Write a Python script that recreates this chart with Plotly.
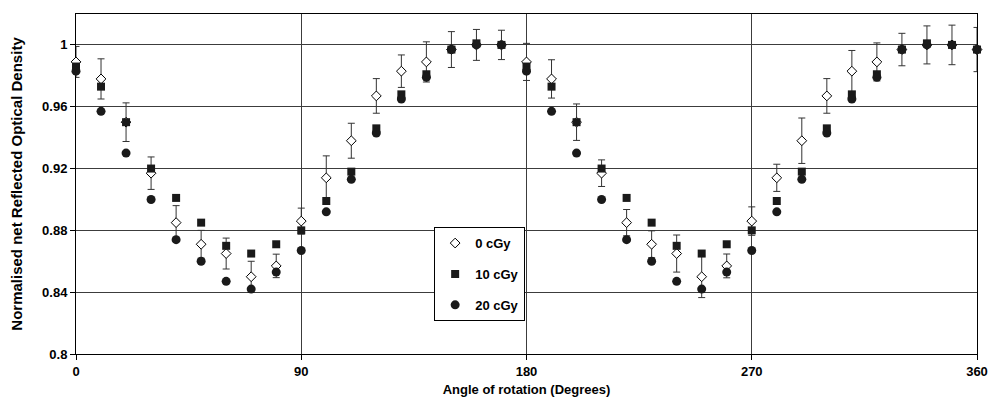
import plotly.graph_objects as go

angles = [0, 10, 20, 30, 40, 50, 60, 70, 80, 90, 100, 110, 120, 130, 140, 150, 160, 170, 180,
          190, 200, 210, 220, 230, 240, 250, 260, 270, 280, 290, 300, 310, 320, 330, 340, 350, 360]

od_0cGy = [0.989, 0.978, 0.950, 0.917, 0.885, 0.871, 0.865, 0.850, 0.857, 0.886,
           0.914, 0.938, 0.967, 0.983, 0.989, 0.997, 1.000, 1.000, 0.989,
           0.978, 0.950, 0.917, 0.885, 0.871, 0.865, 0.850, 0.857, 0.886,
           0.914, 0.938, 0.967, 0.983, 0.989, 0.997, 1.000, 1.000, 0.997]

err_0cGy = [0.010, 0.013, 0.0125, 0.0105, 0.011, 0.009, 0.010, 0.010, 0.0076, 0.0084,
            0.0142, 0.0113, 0.0112, 0.0105, 0.013, 0.0116, 0.010, 0.0095, 0.012,
            0.0124, 0.0118, 0.0086, 0.0085, 0.0087, 0.012, 0.0135, 0.0077, 0.0092,
            0.0088, 0.0147, 0.0112, 0.0134, 0.0123, 0.0105, 0.0123, 0.0128, 0.0143]

od_10cGy = [0.986, 0.973, 0.950, 0.920, 0.901, 0.885, 0.870, 0.865, 0.871, 0.880,
            0.899, 0.918, 0.946, 0.968, 0.981, 0.997, 1.001, 1.000, 0.986,
            0.973, 0.950, 0.920, 0.901, 0.885, 0.870, 0.865, 0.871, 0.880,
            0.899, 0.918, 0.946, 0.968, 0.981, 0.997, 1.001, 1.000, 0.997]

od_20cGy = [0.983, 0.957, 0.930, 0.900, 0.874, 0.860, 0.847, 0.842, 0.853, 0.867,
            0.892, 0.913, 0.943, 0.965, 0.979, 0.997, 1.000, 1.000, 0.983,
            0.957, 0.930, 0.900, 0.874, 0.860, 0.847, 0.842, 0.853, 0.867,
            0.892, 0.913, 0.943, 0.965, 0.979, 0.997, 1.000, 1.000, 0.997]

y_tickvals = [0.8, 0.84, 0.88, 0.92, 0.96, 1.0]
y_ticktext = ["0.8", "0.84", "0.88", "0.92", "0.96", "1"]
x_tickvals = [0, 90, 180, 270, 360]
x_ticktext = ["0", "90", "180", "270", "360"]

FONT = "Arial, 'Liberation Sans', sans-serif"

fig = go.Figure()
fig.add_trace(go.Scatter(
    x=angles, y=od_0cGy, mode="markers", name="0 cGy",
    legendgroup="a", cliponaxis=False,
    marker=dict(symbol="diamond", size=7.5, color="white", line=dict(color="black", width=1)),
    error_y=dict(type="data", array=err_0cGy, visible=True, color="#333", thickness=1, width=3.5),
))
fig.add_trace(go.Scatter(
    x=angles, y=od_10cGy, mode="markers", name="10 cGy",
    legendgroup="b", cliponaxis=False,
    marker=dict(symbol="square", size=8, color="#1a1a1a", line=dict(width=0)),
))
fig.add_trace(go.Scatter(
    x=angles, y=od_20cGy, mode="markers", name="20 cGy",
    legendgroup="c", cliponaxis=False,
    marker=dict(symbol="circle", size=9, color="#1a1a1a", line=dict(width=0)),
))

fig.update_layout(
    width=990, height=401,
    margin=dict(l=76, r=13, t=14, b=47, autoexpand=False),
    paper_bgcolor="white", plot_bgcolor="white",
    font=dict(family=FONT, size=13, color="black", weight="bold"),
    showlegend=True,
    legend=dict(
        x=0.448, y=0.235, xanchor="center", yanchor="middle",
        bgcolor="white", bordercolor="black", borderwidth=1,
        tracegroupgap=11, traceorder="grouped", itemwidth=30,
        font=dict(family=FONT, size=13, color="black", weight="bold"),
    ),
    xaxis=dict(
        range=[0, 360], tickvals=x_tickvals, ticktext=x_ticktext,
        showgrid=True, gridcolor="#3c3c3c", gridwidth=1,
        showline=True, linecolor="black", linewidth=1, mirror=True,
        ticks="outside", ticklen=5, tickcolor="black", ticklabelstandoff=0,
        zeroline=False, layer="below traces", automargin=False,
        tickfont=dict(family=FONT, size=13, color="black", weight="bold"),
        title=dict(text="Angle of rotation (Degrees)", standoff=7,
                   font=dict(family=FONT, size=13, color="black", weight="bold")),
    ),
    yaxis=dict(
        range=[0.8, 1.02], tickvals=y_tickvals, ticktext=y_ticktext,
        showgrid=True, gridcolor="#3c3c3c", gridwidth=1,
        showline=True, linecolor="black", linewidth=1, mirror=True,
        ticks="outside", ticklen=5, tickcolor="black",
        zeroline=False, layer="below traces", automargin=False,
        tickfont=dict(family=FONT, size=13, color="black", weight="bold"),
        title=dict(text="Normalised net Reflected Optical Density", standoff=15,
                   font=dict(family=FONT, size=15, color="black", weight="bold")),
    ),
)

fig.write_html("out.html", config={"displayModeBar": False},
               post_script="document.body.style.margin='0px';document.body.style.overflow='hidden';")
